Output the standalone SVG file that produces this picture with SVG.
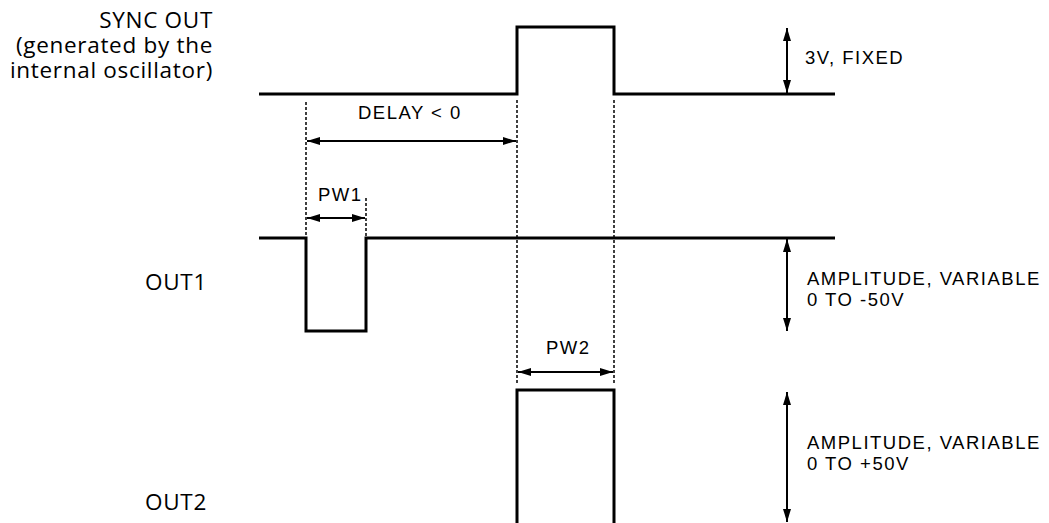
<svg xmlns="http://www.w3.org/2000/svg" width="1049" height="523" viewBox="0 0 1049 523">
<style>
.sig{fill:none;stroke:#000;stroke-width:3;stroke-linejoin:miter}
.dash{fill:none;stroke:#000;stroke-width:1.5;stroke-dasharray:3 2}
.arr{fill:none;stroke:#000;stroke-width:2;marker-start:url(#ah);marker-end:url(#ah)}
.lbl{font-family:"Open Sans","Noto Sans",sans-serif;font-size:22.5px;letter-spacing:0.7px;fill:#000}
.ann{font-family:"Liberation Sans",Arial,sans-serif;font-size:18.5px;letter-spacing:1.5px;fill:#000}
</style>
<defs>
<marker id="ah" viewBox="0 0 13 8" refX="13" refY="4" markerWidth="13" markerHeight="8" markerUnits="userSpaceOnUse" orient="auto-start-reverse">
<path d="M0,0 L13,4 L0,8 z" fill="#000"/>
</marker>
</defs>
<rect width="1049" height="523" fill="#fff"/>
<g id="sync-out">
<path class="sig" d="M259,94 H517 V27 H614 V94 H835"/>
<text class="lbl" x="213" y="28" text-anchor="end" letter-spacing="2">SYNC OUT</text>
<text class="lbl" x="213" y="53" text-anchor="end">(generated by the</text>
<text class="lbl" x="213" y="78" text-anchor="end">internal oscillator)</text>
</g>
<g id="out1">
<path class="sig" d="M259,238 H306 V331 H366 V238 H835"/>
<text class="lbl" x="145" y="290" letter-spacing="1.5">OUT1</text>
</g>
<g id="out2">
<path class="sig" d="M517,523 V390 H614 V523"/>
<text class="lbl" x="145" y="510" letter-spacing="1.5">OUT2</text>
</g>
<g id="connectors">
<line class="dash" x1="306" y1="102" x2="306" y2="236"/>
<line class="dash" x1="366" y1="198" x2="366" y2="236"/>
<line class="dash" x1="517" y1="100" x2="517" y2="385"/>
<line class="dash" x1="614" y1="100" x2="614" y2="385"/>
<line class="arr" x1="307" y1="141" x2="516" y2="141"/>
<line class="arr" x1="307" y1="218" x2="365" y2="218"/>
<line class="arr" x1="518" y1="372" x2="613" y2="372"/>
<line class="arr" x1="787" y1="28" x2="787" y2="93"/>
<line class="arr" x1="787" y1="239" x2="787" y2="331"/>
<line class="arr" x1="787" y1="392" x2="787" y2="522"/>
</g>
<g id="annotations">
<text class="ann" x="358" y="119">DELAY &lt; 0</text>
<text class="ann" x="318" y="201">PW1</text>
<text class="ann" x="546" y="354">PW2</text>
<text class="ann" x="805" y="64">3V, FIXED</text>
<text class="ann" x="807" y="285">AMPLITUDE, VARIABLE</text>
<text class="ann" x="807" y="306">0 TO -50V</text>
<text class="ann" x="807" y="449">AMPLITUDE, VARIABLE</text>
<text class="ann" x="807" y="470">0 TO +50V</text>
</g>
</svg>
